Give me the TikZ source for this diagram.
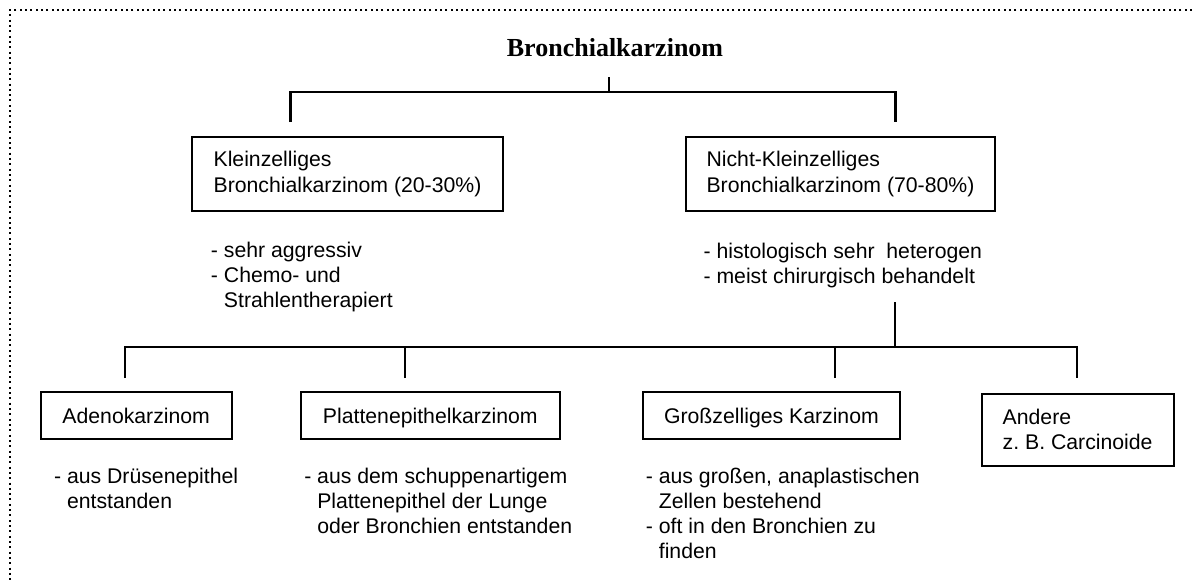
\documentclass[tikz,border=0pt]{standalone}
\usepackage{fontspec}
\setmainfont{Liberation Sans}
\newfontfamily\titlefont{Liberation Serif}
\usetikzlibrary{positioning}
\frenchspacing

\begin{document}
\begin{tikzpicture}[x=1mm, y=1mm, node distance=20mm,
  every node/.style={font=\fontsize{15.1pt}{17.8pt}\selectfont},
  box/.style={draw, rectangle, line width=1.4pt, align=left},
  leaf/.style={box, minimum height=11.9mm, text depth=0pt},
  note/.style={align=left, inner sep=0pt, anchor=north west},
  link/.style={line width=2.1pt}]
  \useasboundingbox (0,0) rectangle (298,-145.75);
  \draw[line width=0.5mm, dash pattern=on 0.5mm off 0.83mm] (298,-2.5) -| (2.5,-145.75);

  \node[font=\titlefont\bfseries\fontsize{18.5pt}{22pt}\selectfont, anchor=base, inner sep=0pt] (title) at (153.75,-14) {Bronchialkarzinom};

  \node[box, minimum width=77.75mm, minimum height=18.5mm] (sclc) at (86.875,-43.5) {Kleinzelliges\\Bronchialkarzinom (20-30\%)};
  \node[box, minimum width=77.25mm, minimum height=18.5mm, right=45.25mm of sclc] (nsclc) {Nicht-Kleinzelliges\\Bronchialkarzinom (70-80\%)};

  \node[note] (sclcnote) at (52.675,-60.45) {- sehr aggressiv\\- Chemo- und\\\hphantom{- }Strahlentherapiert};
  \node[note] (nsclcnote) at (175.825,-60.8) {- histologisch sehr\ \ heterogen\\- meist chirurgisch behandelt};

  \node[leaf, minimum width=47.75mm] (adeno) at (34.05,-103.875) {Adenokarzinom};
  \node[leaf, minimum width=64.675mm, right=16.825mm of adeno] (platte) {Plattenepithelkarzinom};
  \node[leaf, minimum width=64.25mm, right=20.325mm of platte] (gross) {Großzelliges Karzinom};
  \node[box, minimum width=48mm, minimum height=17.925mm, right=19.925mm of gross, yshift=-3.585mm] (andere) {Andere\\z. B. Carcinoide};

  \node[note] (adenonote) at (13.45,-116.95) {- aus Drüsenepithel\\\hphantom{- }entstanden};
  \node[note] (plattenote) at (76,-116.95) {- aus dem schuppenartigem\\\hphantom{- }Plattenepithel der Lunge\\\hphantom{- }oder Bronchien entstanden};
  \node[note] (grossnote) at (161.4,-116.95) {- aus großen, anaplastischen\\\hphantom{- }Zellen bestehend\\- oft in den Bronchien zu\\\hphantom{- }finden};

  \coordinate (stem) at (152.25,-19.25);
  \coordinate (hub) at (152.25,-23);
  \coordinate (sclcin) at (72.625,-30.5);
  \coordinate (nsclcin) at (223.875,-30.5);
  \draw[link] (stem) -- (hub);
  \draw[link] (sclcin) |- (hub) -| (nsclcin);

  \coordinate (nsclcout) at (223.75,-75.5);
  \coordinate (split) at (223.75,-86.75);
  \coordinate (adenoin) at (31.25,-94.5);
  \coordinate (plattein) at (101.25,-94.5);
  \coordinate (grossin) at (208.75,-94.5);
  \coordinate (anderein) at (269.25,-94.5);
  \draw[link] (nsclcout) -- (split);
  \draw[link] (adenoin) |- (split) -| (anderein);
  \draw[link] (plattein) -- (plattein |- split);
  \draw[link] (grossin) -- (grossin |- split);
\end{tikzpicture}
\end{document}
